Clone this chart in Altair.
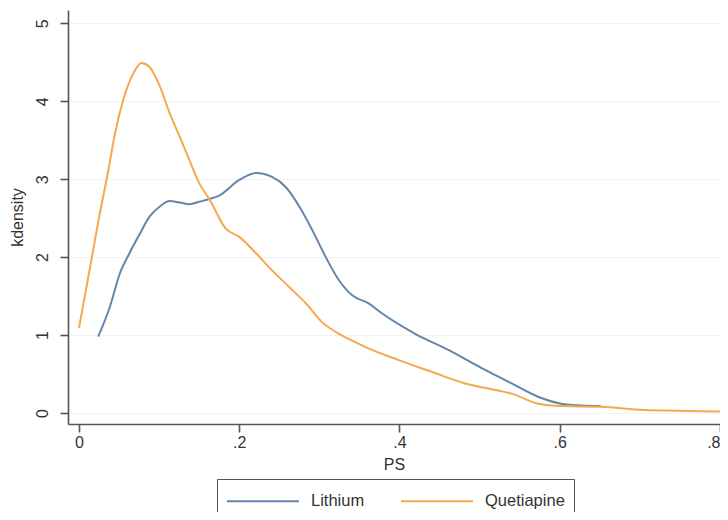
import altair as alt
import pandas as pd

# Lithium kernel density
lith_x = [0.024, 0.0385, 0.051, 0.063, 0.076, 0.088, 0.101, 0.113, 0.126, 0.138, 0.150, 0.161,
          0.175, 0.200, 0.221, 0.241, 0.258, 0.275, 0.291, 0.308, 0.324, 0.341, 0.361, 0.378,
          0.419, 0.461, 0.502, 0.523, 0.540, 0.573, 0.602, 0.622, 0.651]
lith_y = [0.98, 1.36, 1.79, 2.05, 2.30, 2.52, 2.65, 2.72, 2.70, 2.68, 2.71, 2.74,
          2.79, 2.99, 3.08, 3.03, 2.90, 2.65, 2.35, 2.00, 1.71, 1.51, 1.41, 1.28,
          1.02, 0.81, 0.58, 0.47, 0.38, 0.21, 0.12, 0.10, 0.09]

# Quetiapine kernel density
quet_x = [0.0, 0.014, 0.026, 0.036, 0.045, 0.055, 0.068, 0.078, 0.088, 0.101, 0.113, 0.126,
          0.138, 0.150, 0.163, 0.183, 0.200, 0.221, 0.241, 0.262, 0.283, 0.303, 0.324, 0.341,
          0.361, 0.399, 0.440, 0.482, 0.523, 0.540, 0.573, 0.602, 0.651, 0.705, 0.747, 0.802]
quet_y = [1.09, 1.88, 2.56, 3.08, 3.59, 4.01, 4.36, 4.49, 4.44, 4.19, 3.85, 3.54,
          3.24, 2.95, 2.74, 2.37, 2.26, 2.05, 1.83, 1.62, 1.41, 1.17, 1.02, 0.93,
          0.83, 0.68, 0.53, 0.38, 0.29, 0.25, 0.12, 0.09, 0.08, 0.04, 0.03, 0.02]

series = ["Lithium", "Quetiapine"]
colors = ["#6486a9", "#f5a84c"]
x_ticks = [0, 0.2, 0.4, 0.6, 0.8]
y_ticks = [0, 1, 2, 3, 4, 5]

df = pd.concat([
    pd.DataFrame({"PS": lith_x, "kdensity": lith_y, "drug": "Lithium", "order": range(len(lith_x))}),
    pd.DataFrame({"PS": quet_x, "kdensity": quet_y, "drug": "Quetiapine", "order": range(len(quet_x))}),
])

FONT = "Liberation Sans"

chart = alt.Chart(df).mark_line(strokeWidth=2, interpolate="monotone", clip=True).encode(
    x=alt.X("PS:Q", title="PS",
            scale=alt.Scale(domain=[-0.0137, 0.8], nice=False, zero=False),
            axis=alt.Axis(values=x_ticks, grid=False,
                          labelExpr="datum.value == 0 ? '0' : replace(format(datum.value, '.1f'), '0.', '.')",
                          tickSize=8, labelPadding=2, titlePadding=6)),
    y=alt.Y("kdensity:Q", title="kdensity",
            scale=alt.Scale(domain=[-0.14, 5.17], nice=False, zero=False),
            axis=alt.Axis(values=y_ticks, grid=True, gridColor="#f3f3f3",
                          labelAngle=270, labelAlign="center", labelBaseline="bottom",
                          tickSize=8, labelPadding=10, titlePadding=9)),
    color=alt.Color("drug:N", title=None,
                    scale=alt.Scale(domain=series, range=colors),
                    legend=alt.Legend(orient="none", legendX=149, legendY=469,
                                      direction="horizontal", symbolType="M-1,0H5",
                                      symbolSize=576, symbolStrokeWidth=2,
                                      labelFontSize=16.5, labelFont=FONT, labelColor="#333333",
                                      labelOffset=59, columnPadding=32,
                                      padding=9, strokeColor="#555555",
                                      fillColor="#ffffff")),
    order="order:Q",
).properties(
    width=652, height=414,
    autosize=alt.AutoSizeParams(type="none"),
    padding={"left": 60, "top": 2, "right": 0, "bottom": 88},
    background="#ffffff",
).configure_view(
    stroke=None
).configure_axis(
    domainColor="#555555", domainWidth=1.6,
    tickColor="#555555", tickWidth=1.6,
    labelFont=FONT, labelFontSize=16, labelColor="#333333",
    titleFont=FONT, titleFontSize=16, titleFontWeight="normal", titleColor="#333333",
)

chart.save("out.html", embed_options={"renderer": "svg", "actions": False})
